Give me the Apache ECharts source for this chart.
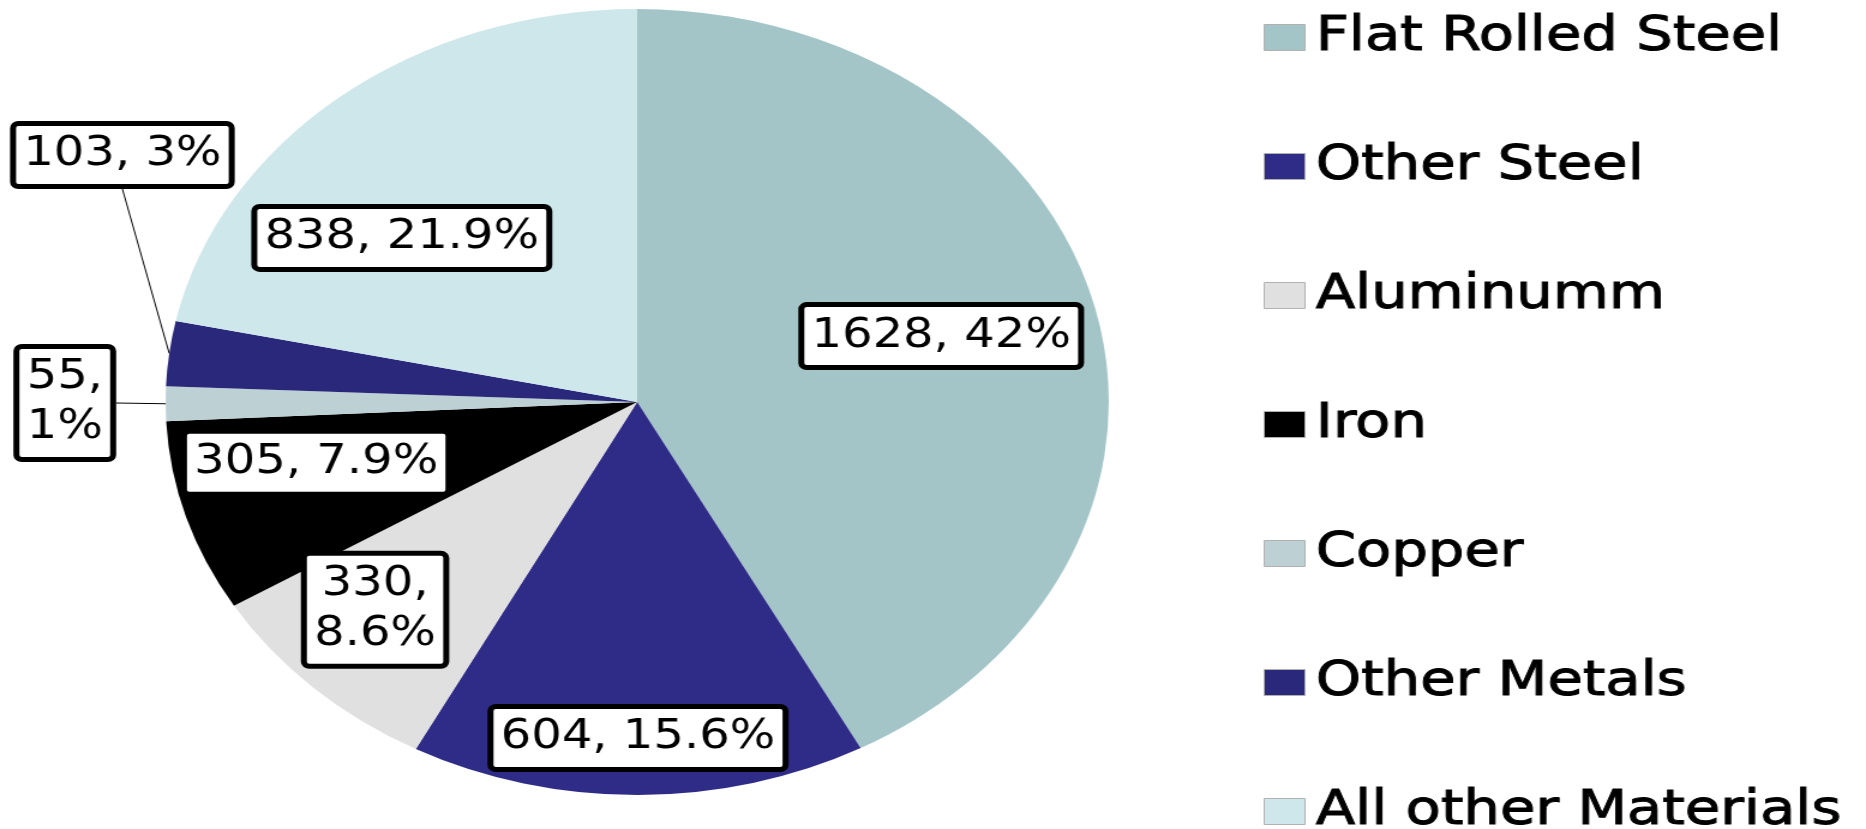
<!DOCTYPE html>
<html>
<head>
<meta charset="utf-8">
<title>Materials pie</title>
<script src="https://cdn.jsdelivr.net/npm/echarts/dist/echarts.min.js"></script>
<style>
  html, body { margin: 0; padding: 0; background: #fff; overflow: hidden; }
  /* the source picture is stretched sideways, so the chart is drawn narrow and widened */
  #main { width: 1555px; height: 829px; transform: scaleX(1.2); transform-origin: 0 0; }
</style>
</head>
<body>
<div id="main"></div>
<script>
// data
const categories = ["Flat Rolled Steel", "Other Steel", "Aluminumm", "Iron", "Copper", "Other Metals", "All other Materials"];
const tonnage = [1628, 604, 330, 305, 55, 103, 838];
const pctLabels = ["42%", "15.6%", "8.6%", "7.9%", "1%", "3%", "21.9%"];

const palette = ["#a4c5c8", "#2e2c87", "#e0e0e0", "#000000", "#bdd1d4", "#29287a", "#cde7ea"];

// labels that wrap onto two lines / sit outside the pie
const wrapped = ["Aluminumm", "Copper"];
const outside = ["Copper", "Other Metals"];

// nudges so the inside labels sit where the original "best fit" put them
const labelNudge = {
  "Flat Rolled Steel": [-24, 4],
  "Other Steel": [0, 50],
  "Aluminumm": [-22, 0],
  "Iron": [6, -23],
  "All other Materials": [-16, 58],
};

const center = [531, 402];
const R = 393;

const chart = echarts.init(document.getElementById("main"));

const pieData = categories.map((name, i) => ({ name: name, value: tonnage[i] }));

const labelData = categories.map((name, i) => {
  const out = outside.includes(name);
  return {
    name: name,
    value: tonnage[i],
    label: { position: out ? "outside" : "inside" },
    labelLine: { show: out },
  };
});

const option = {
  animation: false,
  color: palette,
  legend: {
    orient: "vertical",
    left: 1048,
    top: 8,
    height: 1000,
    icon: "rect",
    itemWidth: 34,
    itemHeight: 26,
    itemGap: 80,
    selectedMode: false,
    itemStyle: { borderColor: "#b0b0b0", borderWidth: 1 },
    textStyle: {
      fontFamily: "DejaVu Sans",
      fontSize: 48,
      lineHeight: 48,
      color: "#000",
      textBorderColor: "#000",
      textBorderWidth: 1,
      padding: [0, 0, 0, 4],
    },
    data: categories,
  },
  series: [
    {
      // the slices
      type: "pie",
      center: center,
      radius: [0, R],
      startAngle: 90,
      clockwise: true,
      silent: true,
      itemStyle: { borderWidth: 0 },
      label: { show: false },
      labelLine: { show: false },
      emphasis: { disabled: true },
      data: pieData,
    },
    {
      // invisible ring that only carries the data labels
      type: "pie",
      center: center,
      radius: [173, R],
      startAngle: 90,
      clockwise: true,
      silent: true,
      avoidLabelOverlap: false,
      itemStyle: { color: "rgba(0,0,0,0)", borderWidth: 0 },
      emphasis: { disabled: true },
      label: {
        show: true,
        fontFamily: "DejaVu Sans",
        fontSize: 40,
        lineHeight: 50,
        color: "#000",
        backgroundColor: "#fff",
        borderColor: "#000",
        borderWidth: 5,
        borderRadius: 2,
        padding: [4, 6],
        formatter: (p) => p.value + "," + (wrapped.includes(p.name) ? "\n" : " ") + pctLabels[p.dataIndex],
      },
      labelLine: {
        length: 0,
        length2: 0,
        lineStyle: { color: "#000", width: 1 },
      },
      labelLayout: function (p) {
        const name = categories[p.dataIndex];
        if (name === "Copper") return { x: 54, y: 403, align: "center", verticalAlign: "middle" };
        if (name === "Other Metals") return { x: 102, y: 155, align: "center", verticalAlign: "middle" };
        const n = labelNudge[name];
        if (n) return { dx: n[0], dy: n[1] };
      },
      data: labelData,
    },
  ],
};

chart.setOption(option);
</script>
</body>
</html>
